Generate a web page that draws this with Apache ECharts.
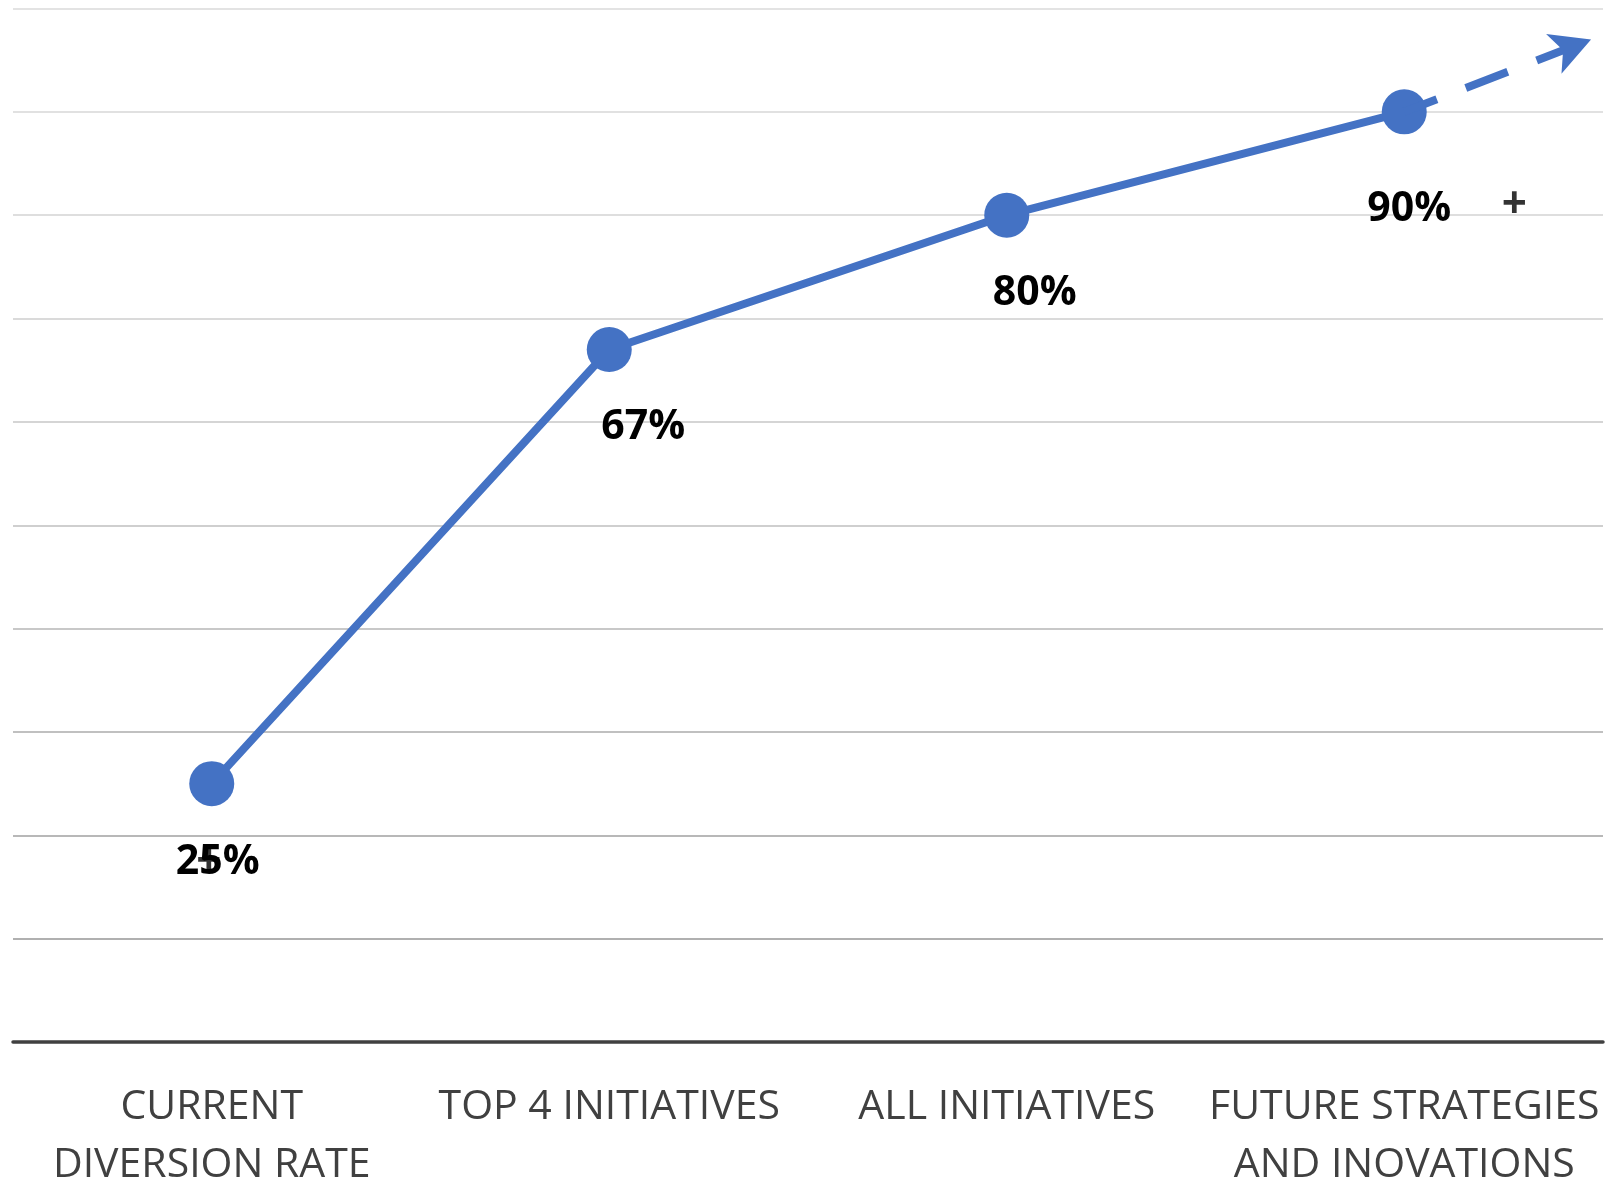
<!DOCTYPE html>
<html>
<head>
<meta charset="utf-8">
<title>Diversion rate outlook</title>
<script src="https://cdn.jsdelivr.net/npm/echarts@6/dist/echarts.min.js"></script>
<style>
  html, body { margin: 0; padding: 0; background: #ffffff; }
  #chart { width: 1608px; height: 1181px; }
</style>
</head>
<body>
<div id="chart"></div>
<script>
// Stages along the x axis
const categories = ['CURRENT\nDIVERSION RATE', 'TOP 4 INITIATIVES', 'ALL INITIATIVES', 'FUTURE STRATEGIES\nAND INOVATIONS'];
// Diversion rate (%) reached at each stage
const rates = [25, 67, 80, 90];
// Extra "+" marks printed beside some rate labels
const plusMarks = ['+', '', '', '+'];
// Dashed projection beyond the last stage: [stage position, rate %]
const projectionStart = [3, 90];
const projectionEnd = [3.47, 97];
// Value axis range
const yMin = 0, yMax = 100, yStep = 10;

const blue = '#4472C4';
const labelFont = '"Open Sans", "Noto Sans", sans-serif';

// label placement relative to each point
const labelOffsets = [[6, 79], [34, 78], [28, 78], [5, 97]];
const plusOffsets = [[-3, 79], [0, 0], [0, 0], [110, 94]];

// grid line shades, from the bottom line upwards
const gridShades = ['#a6a6a6', '#b0b0b0', '#b8b8b8', '#c0c0c0', '#c8c8c8', '#cfcfcf', '#d5d5d5', '#dadada', '#dedede', '#e1e1e1', '#e3e3e3'];

const chart = echarts.init(document.getElementById('chart'), null, { renderer: 'canvas' });

chart.setOption({
  animation: false,
  backgroundColor: '#ffffff',
  grid: { left: 13, right: 5, top: 8.5, bottom: 139, containLabel: false, outerBoundsMode: 'none' },
  xAxis: [
    {
      type: 'category',
      data: categories,
      boundaryGap: true,
      axisLine: { show: true, lineStyle: { color: '#404040', width: 3.5 } },
      axisTick: { show: false },
      axisLabel: {
        color: '#404040',
        fontFamily: labelFont,
        fontSize: 41,
        lineHeight: 58,
        margin: 36,
        interval: 0
      }
    },
    {
      type: 'value',
      min: -0.5,
      max: 3.5,
      show: false
    }
  ],
  yAxis: {
    type: 'value',
    min: yMin,
    max: yMax,
    interval: yStep,
    axisLine: { show: false },
    axisTick: { show: false },
    axisLabel: { show: false },
    splitLine: { show: true, lineStyle: { color: gridShades, width: 2 } }
  },
  series: [
    {
      // dashed projection arrow
      type: 'line',
      xAxisIndex: 1,
      data: [],
      z: 1,
      markLine: {
        silent: true,
        symbol: ['none', 'arrow'],
        symbolSize: [32, 40],
        label: { show: false },
        lineStyle: { color: blue, width: 8, type: [45, 31], dashOffset: 10 },
        data: [[{ coord: projectionStart }, { coord: projectionEnd }]]
      }
    },
    {
      type: 'line',
      data: rates.map((v, i) => ({
        value: v,
        label: { offset: labelOffsets[i] }
      })),
      z: 3,
      lineStyle: { color: blue, width: 8 },
      itemStyle: { color: blue },
      symbol: 'circle',
      symbolSize: 45,
      label: {
        show: true,
        position: 'inside',
        formatter: p => p.value + '%',
        color: '#000000',
        fontFamily: labelFont,
        fontWeight: 'bold',
        fontSize: 41
      }
    },
    {
      // "+" marks, placed on the same points
      type: 'scatter',
      data: rates.map((v, i) => ({
        value: v,
        label: { offset: plusOffsets[i] }
      })),
      z: 4,
      symbol: 'circle',
      symbolSize: 1,
      itemStyle: { color: 'rgba(0,0,0,0)' },
      label: {
        show: true,
        position: 'inside',
        formatter: p => plusMarks[p.dataIndex],
        color: '#000000',
        fontFamily: labelFont,
        fontWeight: 'bold',
        fontSize: 44
      }
    }
  ]
});
</script>
</body>
</html>
